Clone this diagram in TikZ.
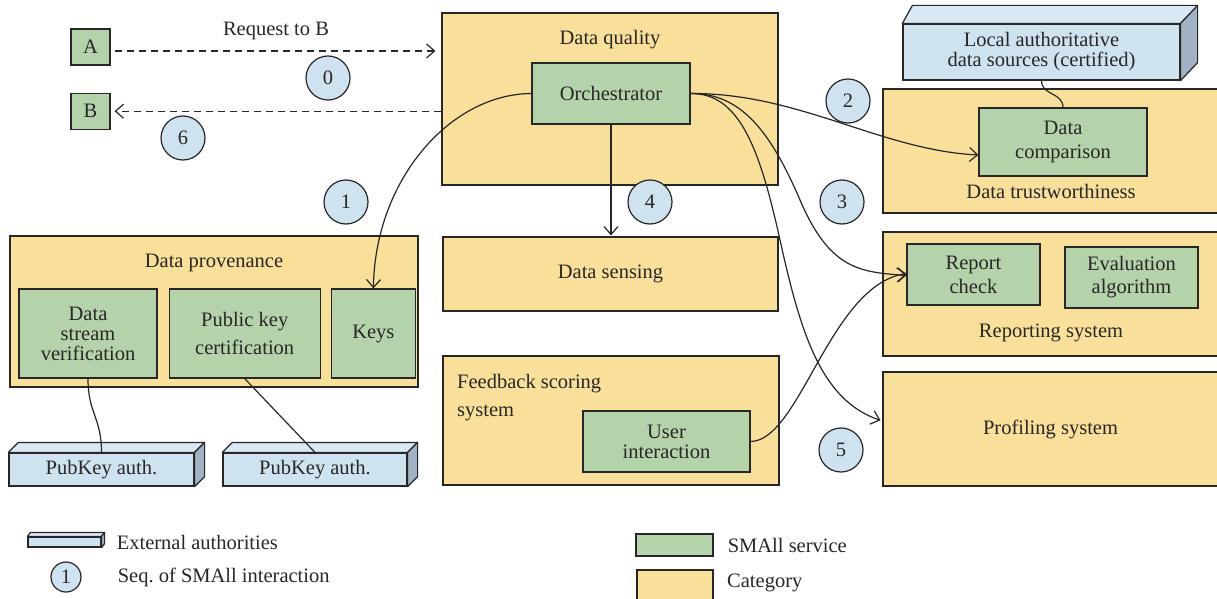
\documentclass[tikz,border=0pt]{standalone}
\usepackage{fontspec}
\setmainfont{Liberation Serif}
\usetikzlibrary{positioning,arrows.meta}
\definecolor{catyellow}{RGB}{248,224,154}
\definecolor{svcgreen}{RGB}{180,211,170}
\definecolor{authblue}{RGB}{207,226,240}
\definecolor{authtopblue}{RGB}{216,232,245}
\definecolor{authside}{RGB}{160,178,196}
\definecolor{inkgray}{RGB}{40,38,38}

\begin{document}
\begin{tikzpicture}[x=1pt, y=-1pt, color=inkgray,
    font=\fontsize{20.5}{24}\selectfont,
    category/.style={rectangle, draw, fill=catyellow, line width=1.2pt, inner sep=0pt, align=center},
    service/.style={rectangle, draw, fill=svcgreen, line width=1.2pt, inner sep=0pt, align=center},
    authority/.style={rectangle, draw, fill=authblue, line width=1.2pt, inner sep=0pt, align=center},
    authtop/.style={draw, fill=authtopblue, line width=1.2pt, line join=round},
    authright/.style={draw, fill=authside, line width=1.2pt, line join=round},
    seqnum/.style={circle, draw, fill=authblue, line width=1.2pt, minimum size=44pt, inner sep=0pt},
    heading/.style={inner sep=0pt, anchor=base},
    flow/.style={line width=1.2pt, -{Straight Barb[length=8pt, width=14pt]}},
    request/.style={flow, dash pattern=on 7pt off 5pt},
    link/.style={line width=1.2pt}
  ]
  \useasboundingbox (0,0) rectangle (1217,599);

  % requesters
  \node[service, minimum width=39pt, minimum height=36pt] (a) at (90.5,47) {A};
  \node[service, minimum width=39pt, minimum height=36pt, below=27pt of a] (b) {B};

  % data quality
  \node[category, minimum width=336pt, minimum height=172pt] (quality) at (610,99) {};
  \node[heading] (qualitytitle) at (610,45) {Data quality};
  \node[service, minimum width=158pt, minimum height=61pt] (orch) at (611,93.5) {Orchestrator};
  \node[category, minimum width=335pt, minimum height=74pt] (sensing) at (610.5,274) {Data sensing};
  \node[category, minimum width=336pt, minimum height=129pt] (feedback) at (611,420.5) {};
  \node[heading, anchor=north west, align=left, font=\fontsize{20.5}{28}\selectfont] (feedbacktitle) at (457,374) {Feedback scoring\\system};
  \node[service, minimum width=167pt, minimum height=61pt, font=\fontsize{20.5}{20}\selectfont] (user) at (666.5,441.5) {User\\interaction};

  % right column
  \node[category, minimum width=335pt, minimum height=124pt] (trust) at (1050.5,151) {};
  \node[heading] (trusttitle) at (1051,198) {Data trustworthiness};
  \node[service, minimum width=168pt, minimum height=68pt] (comp) at (1063,142) {Data\\comparison};
  \node[authority, minimum width=277pt, minimum height=56pt, font=\fontsize{20.5}{20}\selectfont] (local) at (1041.5,52) {Local authoritative\\data sources (certified)};
  \node[category, minimum width=335pt, minimum height=124pt] (reporting) at (1050.5,294) {};
  \node[heading] (reportingtitle) at (1051,337) {Reporting system};
  \node[service, minimum width=133pt, minimum height=61pt] (check) at (973.5,274.5) {Report\\check};
  \node[service, minimum width=133pt, minimum height=61pt, font=\fontsize{20.5}{23}\selectfont] (evaluation) at (1131.5,277.5) {Evaluation\\algorithm};
  \node[category, minimum width=335pt, minimum height=114pt] (profiling) at (1050.5,429) {Profiling system};

  % data provenance
  \node[category, minimum width=408pt, minimum height=151pt] (provenance) at (214,311.5) {};
  \node[heading] (provenancetitle) at (214,267) {Data provenance};
  \node[service, minimum width=138pt, minimum height=89pt, font=\fontsize{20.5}{20}\selectfont] (stream) at (88,333.5) {Data\\stream\\verification};
  \node[service, minimum width=151pt, minimum height=89pt, font=\fontsize{20.5}{28}\selectfont, right=11pt of stream] (pubcert) {Public key\\certification};
  \node[service, minimum width=84pt, minimum height=89pt, right=10pt of pubcert] (keys) {Keys};

  % external authorities
  \node[authority, minimum width=185pt, minimum height=33pt] (pkauth1) at (101.5,469.5) {PubKey auth.};
  \node[authority, minimum width=184pt, minimum height=33pt] (pkauth2) at (315,469.5) {PubKey auth.};
  \foreach \ext in {pkauth1,pkauth2}{
    \draw[authtop] (\ext.north west) -- ++(10,-10) -- ([shift={(10,-10)}]\ext.north east) -- (\ext.north east) -- cycle;
    \draw[authright] (\ext.north east) -- ++(10,-10) -- ([shift={(10,-10)}]\ext.south east) -- (\ext.south east) -- cycle;
  }
  \draw[authtop] (local.north west) -- ++(10,-18) -- ([shift={(17,-18)}]local.north east) -- (local.north east) -- cycle;
  \draw[authright] (local.north east) -- ++(17,-18) -- ([shift={(17,-18)}]local.south east) -- (local.south east) -- cycle;

  % connectors
  \coordinate (reqstart) at ([yshift=-4pt]a.east);
  \draw[request, shorten <=4pt, shorten >=6pt] (reqstart) -- (reqstart -| quality.west) node[midway, above=11pt, inner sep=0pt] {Request to B};
  \coordinate (replystart) at (b.east -| quality.west);
  \draw[request, shorten >=4pt] (replystart) -- (b.east);
  \draw[flow] (orch.west) .. controls (450,94) and (375,180) .. (keys.north);
  \draw[flow, shorten >=1pt] (orch.south) -- (orch.south |- sensing.north);
  \draw[flow] (orch.east) .. controls (800,93) and (880,150) .. ([yshift=-13pt]comp.west);
  \draw[flow] (orch.east) .. controls (740,93) and (770,130) .. (800,200) .. controls (830,270) and (860,272) .. ([yshift=-1pt]check.west);
  \draw[flow, shorten >=2pt] (orch.east) .. controls (740,93) and (760,150) .. (780,240) .. controls (800,330) and (820,400) .. ([yshift=8pt]profiling.west);
  \draw[flow] (user.east) .. controls (800,441) and (830,285) .. ([yshift=1pt]check.west);
  \draw[link] (stream.south) .. controls +(0,35) and +(0,-35) .. (pkauth1.north);
  \draw[link] (pubcert.south) -- (pkauth2.north);
  \draw[link] (local.south) .. controls +(0,15) and +(0,-15) .. (comp.north);

  % sequence numbers
  \node[seqnum] (s0) at (328,78) {0};
  \node[seqnum] (s1) at (346,202) {1};
  \node[seqnum] (s2) at (848,101) {2};
  \node[seqnum] (s3) at (842,202) {3};
  \node[seqnum] (s4) at (650,202) {4};
  \node[seqnum] (s5) at (841,450) {5};
  \node[seqnum] (s6) at (183,138) {6};

  % legend
  \node[authority, minimum width=73pt, minimum height=10pt] (extlegend) at (64.5,542) {};
  \draw[authtop] (extlegend.north west) -- ++(3,-4) -- ([shift={(3,-4)}]extlegend.north east) -- (extlegend.north east) -- cycle;
  \draw[authright] (extlegend.north east) -- ++(3,-4) -- ([shift={(3,-4)}]extlegend.south east) -- (extlegend.south east) -- cycle;
  \node[inner sep=0pt, right=15pt of extlegend] (extlabel) {External authorities};
  \node[seqnum, minimum size=30pt] (seqlegend) at (66,577) {1};
  \node[inner sep=0pt, right=36pt of seqlegend] (seqlabel) {Seq.\ of SMAll interaction};
  \node[service, minimum width=77pt, minimum height=22pt] (svclegend) at (674.5,545) {};
  \node[inner sep=0pt, right=14pt of svclegend] (svclabel) {SMAll service};
  \node[category, minimum width=76pt, minimum height=31pt] (catlegend) at (675,585.5) {};
  \node[inner sep=0pt, anchor=west] (catlabel) at (727,583) {Category};
\end{tikzpicture}
\end{document}
